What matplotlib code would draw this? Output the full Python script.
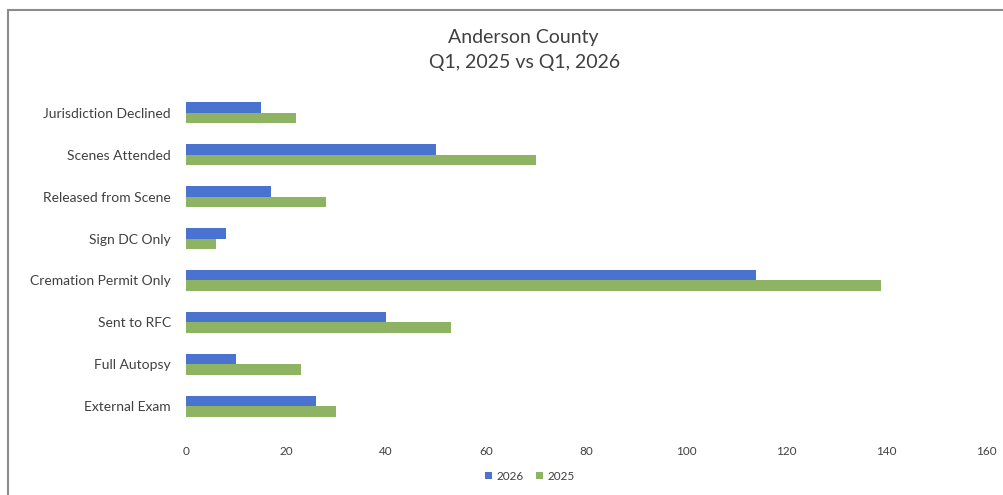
import matplotlib.pyplot as plt
import numpy as np
from matplotlib.patches import Rectangle

# Categories, top to bottom as shown
categories = ['Jurisdiction Declined', 'Scenes Attended', 'Released from Scene',
              'Sign DC Only', 'Cremation Permit Only', 'Sent to RFC',
              'Full Autopsy', 'External Exam']
vals_2026 = [15, 50, 17, 8, 114, 40, 10, 26]
vals_2025 = [22, 70, 28, 6, 139, 53, 23, 30]
xticks = [0, 20, 40, 60, 80, 100, 120, 140, 160]

blue = '#4a72cf'
green = '#8db363'
text_col = '#404040'

plt.rcParams['font.family'] = ['Lato', 'DejaVu Sans']

fig = plt.figure(figsize=(10.04, 4.95), dpi=100)
ax = fig.add_axes([0.1853, 0.1374, 0.797, 0.6768])

y = np.arange(len(categories))
h = 0.25
ax.barh(y - h / 2, vals_2026, height=h, color=blue, label='2026')
ax.barh(y + h / 2, vals_2025, height=h, color=green, label='2025')

ax.set_ylim(len(categories) - 0.5, -0.5)
ax.set_xlim(0, 160)
ax.set_yticks(y)
ax.set_yticklabels(categories, fontsize=10, color=text_col)
ax.set_xticks(xticks)
ax.set_xticklabels([str(t) for t in xticks], fontsize=8.5, color=text_col)
ax.tick_params(axis='both', length=0)
ax.tick_params(axis='y', pad=11)
ax.tick_params(axis='x', pad=14)
for s in ax.spines.values():
    s.set_visible(False)

fig.text(0.521, 0.925, 'Anderson County', ha='center', va='center',
         fontsize=14, color=text_col)
fig.text(0.522, 0.874, 'Q1, 2025 vs Q1, 2026', ha='center', va='center',
         fontsize=14, color=text_col)

ax.legend(loc='center', bbox_to_anchor=(0.528, 0.038), bbox_transform=fig.transFigure,
          ncol=2, frameon=False, fontsize=8.5, handlelength=0.6, handleheight=0.6,
          columnspacing=1.0, handletextpad=0.4, labelcolor=text_col)

# chart border (left/top visible in the scan)
fig.add_artist(Rectangle((0.008, -0.02), 1.2, 0.999, transform=fig.transFigure,
                         fill=False, edgecolor='#8c8c8c', linewidth=1.5))

fig.savefig('out.png', dpi=100)
